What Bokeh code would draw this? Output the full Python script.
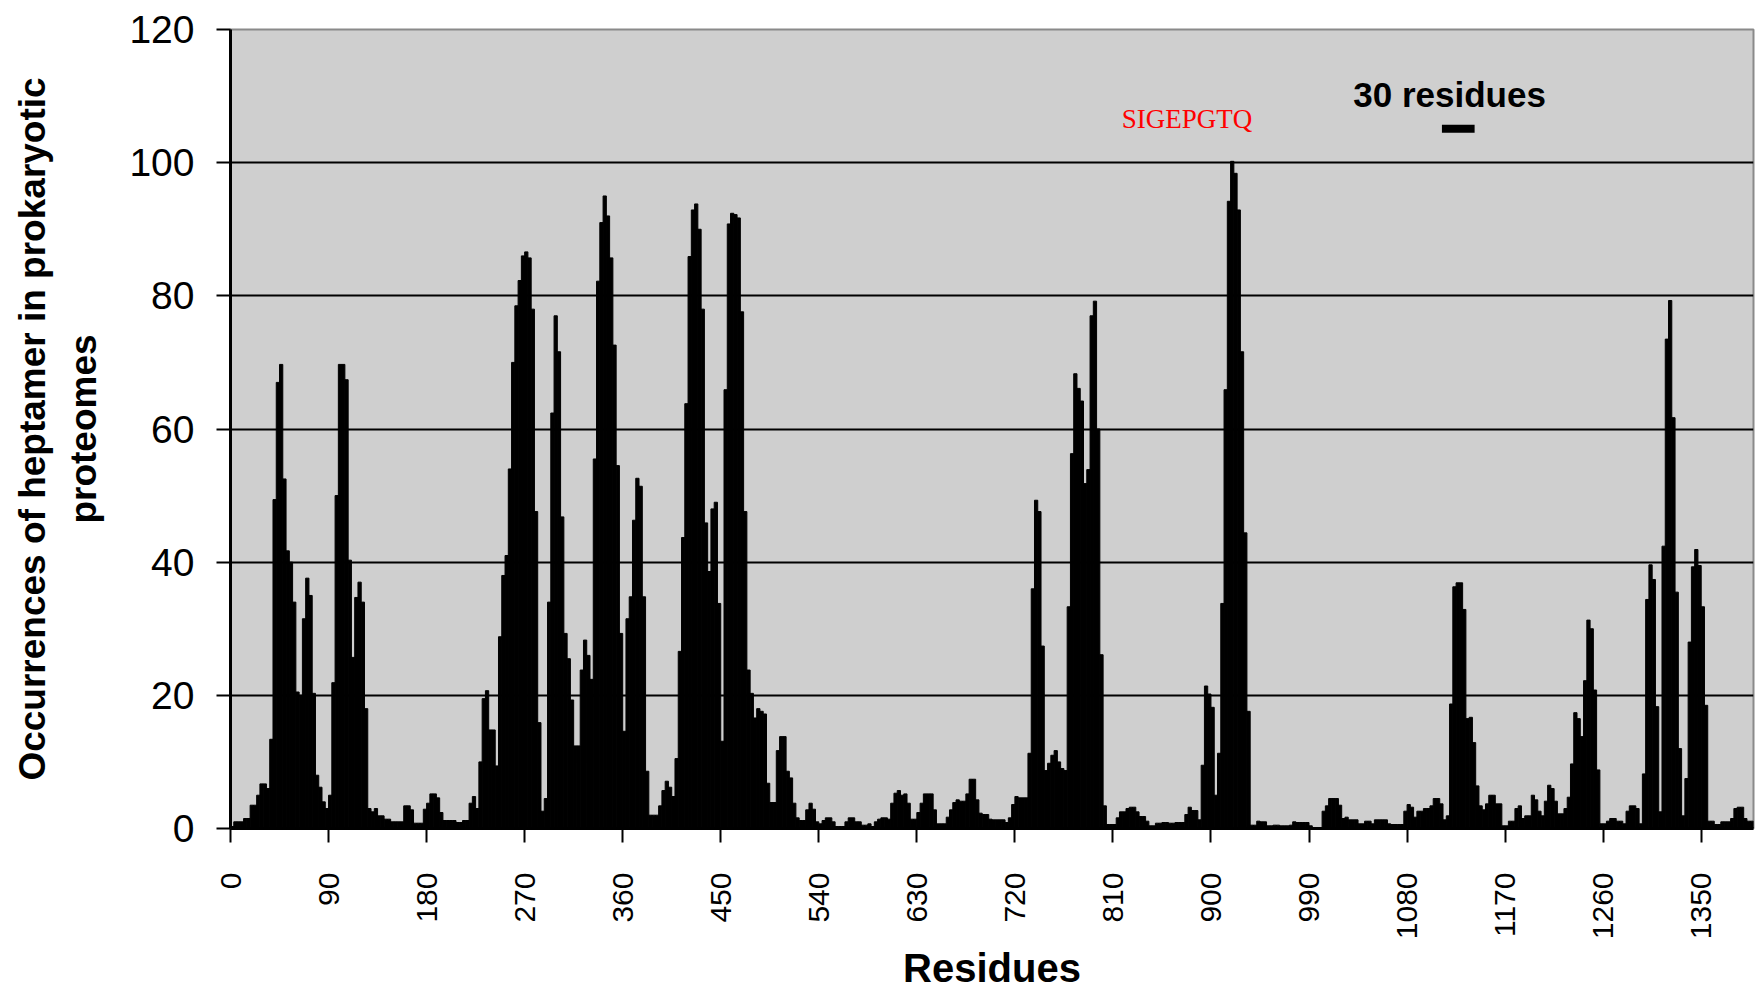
import numpy as np
from bokeh.plotting import figure
from bokeh.models import Range1d, FixedTicker, Label
from bokeh.embed import file_html
from bokeh.resources import INLINE

# ---------------- data (heptamer occurrences, one bar per 3 residues) ----------------
BIN = 3
counts_000 = [0.3, 1, 1, 1, 1.5, 1.5, 3.5, 3.5, 5, 6.7, 6.7, 6, 13.4, 49.4, 67, 69.7, 52.5, 41.7, 40, 34,
              20.5, 20, 31.5, 37.6, 35, 20.3, 8, 6.2, 4, 3]
counts_090 = [5, 21.9, 50, 69.7, 69.7, 67.4, 40.3, 25.7, 34.7, 37, 34, 18, 3, 2.5, 3, 1.9, 1.9, 1.4, 1.4, 1,
              1, 1, 1, 3.4, 3.4, 2.8, 0.8, 0.8, 0.8, 2.9]
counts_180 = [3.8, 5.2, 5.2, 4.6, 2.4, 1.2, 1.2, 1.2, 1.2, 0.9, 0.9, 1.2, 1.2, 3.8, 4.8, 3, 10, 19.5, 20.7, 14.8,
              14.8, 9.4, 28.8, 38, 41, 54, 70, 78.5, 82.3, 86]
counts_270 = [86.6, 85.7, 78, 47.6, 15.9, 2.6, 4.5, 34, 62.4, 77, 71.6, 46.8, 29.3, 25.5, 19.3, 12.4, 12.4, 23.8,
              28.3, 26, 22.4, 55.5, 82.2, 91, 95, 92, 85.7, 72.6, 54.5, 29.3]
counts_360 = [14.6, 31.5, 34.8, 46.3, 52.6, 51.4, 34.8, 8.6, 2, 2, 2, 3.4, 5.7, 7.1, 6.2, 4.8, 10.5, 26.6, 43.7,
              63.8, 85.9, 92.9, 93.8, 90, 78, 45.9, 38.6, 48, 49, 33.8]
counts_450 = [13.1, 65.9, 90.8, 92.4, 92.2, 91.7, 77.6, 47.6, 23.8, 20.3, 16.6, 18, 17.6, 17.2, 6.8, 3.9, 3.9,
              11.7, 13.8, 13.8, 8.6, 7.6, 3.8, 1.6, 1.2, 1.2, 2.8, 3.8, 2.9, 1]
counts_540 = [0.7, 1.2, 1.6, 1.6, 1, 0.3, 0.3, 0.3, 1, 1.6, 1.6, 1, 1, 0.5, 0.5, 0.7, 0.3, 1, 1.4, 1.6, 1.6, 1.4,
              3.8, 5.3, 5.7, 5, 5.2, 3.8, 1.4, 1.4]
counts_630 = [2.4, 3.8, 5.2, 5.2, 5.2, 2.8, 0.7, 0.7, 0.7, 1.7, 2.8, 3.9, 4.3, 4.1, 4.1, 5.2, 7.4, 7.4, 4.3, 2.3,
              2.1, 2.1, 1.4, 1.3, 1.3, 1.3, 1.3, 0.9, 1.6, 3.6]
counts_720 = [4.8, 4.6, 4.6, 4.6, 11.3, 36, 49.3, 47.6, 27.4, 8.7, 9.8, 11, 11.7, 10, 9, 8.7, 33.3, 56.3, 68.3,
              66.1, 64.2, 51.8, 53.9, 77, 79.2, 60, 26.1, 3.4, 0.6, 0.6]
counts_810 = [0.6, 1.6, 2.5, 2.5, 3, 3.2, 3.2, 2.5, 1.8, 1.8, 1.1, 0.4, 0.4, 0.8, 0.8, 0.9, 0.9, 0.8, 0.8, 0.9,
              0.9, 0.9, 2.1, 3.2, 2.7, 2.7, 1.3, 9.5, 21.4, 20.2]
counts_900 = [18.2, 5, 11.3, 33.8, 65.9, 94.2, 100.2, 98.4, 92.9, 71.6, 44.4, 17.6, 0.5, 0.5, 1.1, 1, 1, 0.4, 0.4,
              0.5, 0.5, 0.4, 0.4, 0.4, 0.5, 1, 0.9, 0.9, 0.9, 0.9]
counts_990 = [0.4, 0.1, 0.1, 0.1, 2.6, 3.4, 4.5, 4.5, 4.5, 3.5, 1.5, 1.7, 1.3, 1.3, 1.3, 0.7, 0.7, 1.1, 1.1, 0.7,
              1.3, 1.3, 1.3, 1.3, 0.7, 0.6, 0.6, 0.6, 0.6, 2.6]
counts_1080 = [3.6, 3.2, 1.7, 2.6, 2.6, 3, 3, 3.4, 4.5, 4.5, 3.7, 1.3, 1.9, 18.7, 36.3, 36.9, 36.9, 32.9, 16.5,
               16.7, 12.9, 6.4, 3.4, 2.8, 3.7, 5, 5, 3.7, 3.7, 0.4]
counts_1170 = [0.4, 1.1, 1.1, 3, 3.4, 1.5, 1.9, 1.9, 5, 4.3, 2.6, 1.9, 4.1, 6.5, 6, 4.1, 2.2, 2.2, 3, 4.7, 9.7,
               17.4, 16.5, 13.8, 22.2, 31.3, 30, 20.8, 8.8, 0.7]
counts_1260 = [0.7, 1.1, 1.5, 1.5, 1.1, 1.1, 0.7, 2.6, 3.4, 3.4, 3, 0.7, 8.2, 34.4, 39.6, 37.4, 18.3, 2.5, 42.4,
               73.5, 79.3, 61.7, 35.5, 12, 1.9, 7.5, 28, 39.3, 41.9, 39.5]
counts_1350 = [33.3, 18.5, 1.1, 1.1, 0.6, 0.6, 1, 1, 1, 1.5, 3, 3.2, 3.2, 1.5, 1.1, 1.1]

x_tick_values = [0, 90, 180, 270, 360, 450, 540, 630, 720, 810, 900, 990, 1080, 1170, 1260, 1350]
y_tick_values = [0, 20, 40, 60, 80, 100, 120]
grid_values = [20, 40, 60, 80, 100]

motif_label = "SIGEPGTQ"
scale_label = "30 residues"
SCALE_RESIDUES = 30

counts = (counts_000 + counts_090 + counts_180 + counts_270 + counts_360 + counts_450 + counts_540 +
          counts_630 + counts_720 + counts_810 + counts_900 + counts_990 + counts_1080 + counts_1170 +
          counts_1260 + counts_1350)
residue_start = np.arange(len(counts)) * BIN
x_end = len(counts) * BIN

# ---------------- figure ----------------
p = figure(width=1764, height=993, output_backend="svg", toolbar_location=None,
           x_range=Range1d(0, x_end), y_range=Range1d(0, 120),
           min_border_left=230, min_border_right=11, min_border_top=29, min_border_bottom=162)
p.background_fill_color = "#CFCFCF"
p.border_fill_color = "white"
p.outline_line_color = "#8a8a8a"
p.outline_line_width = 2

p.vbar(x=residue_start + BIN / 2, width=BIN, top=counts, bottom=0,
       fill_color="black", line_color="black", line_width=1)

# grid
p.xgrid.visible = False
p.ygrid.ticker = FixedTicker(ticks=grid_values)
p.ygrid.grid_line_color = "black"
p.ygrid.grid_line_width = 2

# x axis
xa = p.xaxis[0]
xa.ticker = FixedTicker(ticks=x_tick_values)
xa.major_label_orientation = np.pi / 2
xa.major_tick_out = 14
xa.major_tick_in = 0
xa.minor_tick_out = 0
xa.minor_tick_in = 0
xa.major_tick_line_width = 2
xa.axis_line_width = 3
xa.axis_line_color = "black"
xa.major_label_text_font = "Liberation Sans"
xa.major_label_text_font_size = "30px"
xa.major_label_text_color = "black"
xa.major_label_standoff = 30
xa.axis_label = "Residues"
xa.axis_label_text_font = "Liberation Sans"
xa.axis_label_text_font_style = "bold"
xa.axis_label_text_font_size = "40px"
xa.axis_label_text_color = "black"
xa.axis_label_standoff = 4

# y axis
ya = p.yaxis[0]
ya.ticker = FixedTicker(ticks=y_tick_values)
ya.major_tick_out = 14
ya.major_tick_in = 0
ya.minor_tick_out = 0
ya.minor_tick_in = 0
ya.major_tick_line_width = 2
ya.axis_line_width = 3
ya.axis_line_color = "black"
ya.major_label_text_font = "Liberation Sans"
ya.major_label_text_font_size = "39px"
ya.major_label_text_color = "black"
ya.major_label_standoff = 22
ya.axis_label = "Occurrences of heptamer in prokaryotic\nproteomes"
ya.axis_label_text_font = "Liberation Sans"
ya.axis_label_text_font_style = "bold"
ya.axis_label_text_font_size = "37px"
ya.axis_label_text_color = "black"
ya.axis_label_text_line_height = 1.25
ya.axis_label_standoff = 22

# annotations
p.add_layout(Label(x=878, y=106.6, text=motif_label, text_align="center", text_baseline="alphabetic",
                   text_font="Liberation Serif", text_font_size="27px", text_color="red"))
p.add_layout(Label(x=1119, y=110.3, text=scale_label, text_align="center", text_baseline="alphabetic",
                   text_font="Liberation Sans", text_font_style="bold", text_font_size="35px",
                   text_color="black"))
scale_x0 = 1112
p.segment(x0=[scale_x0], y0=[105.1], x1=[scale_x0 + SCALE_RESIDUES], y1=[105.1],
          line_width=8, line_color="black")

open("out.html", "w").write(file_html(p, INLINE))
